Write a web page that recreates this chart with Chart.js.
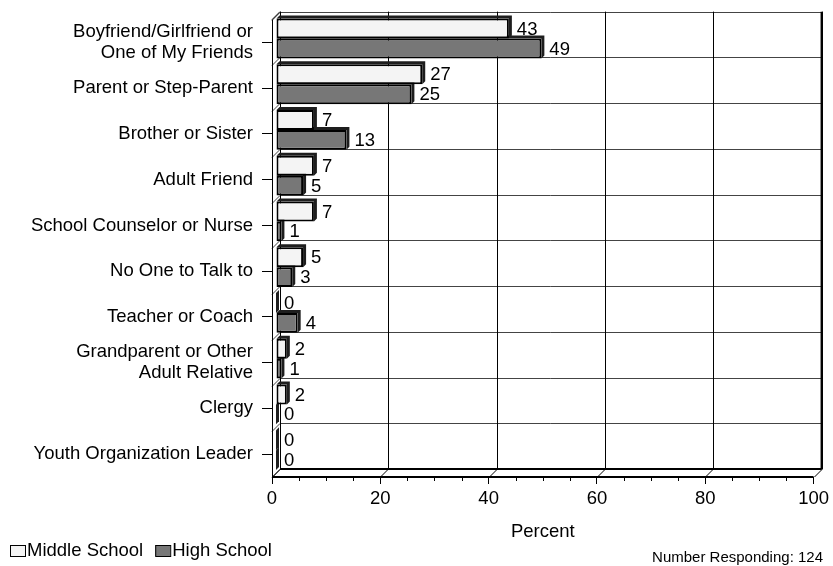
<!DOCTYPE html>
<html>
<head>
<meta charset="utf-8">
<script src="https://cdn.jsdelivr.net/npm/chart.js@4"></script>
<style>
  html, body { margin: 0; padding: 0; background: #fff; }
  canvas { display: block; }
</style>
</head>
<body>
<canvas id="chart" width="833" height="566"></canvas>
<script>
const categories = [
  ["Boyfriend/Girlfriend or", "One of My Friends"],
  "Parent or Step-Parent",
  "Brother or Sister",
  "Adult Friend",
  "School Counselor or Nurse",
  "No One to Talk to",
  "Teacher or Coach",
  ["Grandparent or Other", "Adult Relative"],
  "Clergy",
  "Youth Organization Leader"
];
const middleSchool = [43, 27, 7, 7, 7, 5, 0, 2, 2, 0];
const highSchool = [49, 25, 13, 5, 1, 3, 4, 1, 0, 0];
const xTicks = [0, 20, 40, 60, 80, 100];
const respondents = 124;

const FONT = "'Liberation Sans', Arial, sans-serif";
const SIZE = 18.5;
const WALL = 8;   // depth of the back wall
const SHIFT = 4;  // bars sit half way into the box
const SIDE = 3;   // visible side/top face of each bar

function line(ctx, x1, y1, x2, y2) {
  ctx.beginPath();
  ctx.moveTo(x1, y1);
  ctx.lineTo(x2, y2);
  ctx.stroke();
}

const box3d = {
  id: 'box3d',
  beforeDatasetsDraw(chart) {
    const { ctx, chartArea: a, scales: { x } } = chart;
    const n = categories.length;
    const band = (a.bottom - a.top) / n;
    ctx.save();
    ctx.lineWidth = 1;
    // horizontal lines between categories on the back wall + left wall
    ctx.strokeStyle = '#444';
    for (let i = 0; i <= n; i++) {
      const py = Math.round(a.top + i * band) + 0.5;
      line(ctx, a.left + WALL, py - WALL, a.right + WALL, py - WALL);
      line(ctx, a.left, py, a.left + WALL, py - WALL);
    }
    // vertical grid lines on the back wall + floor
    ctx.strokeStyle = '#000';
    xTicks.forEach(v => {
      const px = Math.round(x.getPixelForValue(v)) + 0.5;
      line(ctx, px + WALL, a.top - WALL, px + WALL, a.bottom - WALL);
      line(ctx, px, a.bottom, px + WALL, a.bottom - WALL);
    });
    // box edges
    ctx.lineWidth = 1;
    line(ctx, a.left + 0.5, a.top, a.left + 0.5, a.bottom);
    line(ctx, a.left, a.top, a.left + WALL, a.top - WALL);
    ctx.lineWidth = 2;
    line(ctx, a.left, a.bottom, a.right, a.bottom);
    line(ctx, a.right + WALL, a.top - WALL, a.right + WALL, a.bottom - WALL);
    line(ctx, a.left + WALL, a.bottom - WALL, a.right + WALL, a.bottom - WALL);
    ctx.restore();

    // minor ticks on the value axis
    ctx.save();
    ctx.strokeStyle = '#000';
    ctx.lineWidth = 1;
    for (let v = 0; v <= 100; v += 5) {
      if (v % 20 === 0) continue;
      const px = Math.round(x.getPixelForValue(v)) + 0.5;
      line(ctx, px, a.bottom, px, a.bottom + 4);
    }
    ctx.restore();

    // bar side/top faces, then the bars themselves, drawn shifted into the box
    ctx.save();
    ctx.translate(SHIFT, -SHIFT);
    ctx.fillStyle = '#1e1e1e';
    chart.data.datasets.forEach((ds, di) => {
      chart.getDatasetMeta(di).data.forEach(bar => {
        const l = Math.min(bar.base, bar.x), r = Math.max(bar.base, bar.x);
        const t = bar.y - bar.height / 2, b = bar.y + bar.height / 2;
        ctx.beginPath();
        ctx.moveTo(l, t);
        ctx.lineTo(l + SIDE, t - SIDE);
        ctx.lineTo(r + SIDE, t - SIDE);
        ctx.lineTo(r + SIDE, b - SIDE);
        ctx.lineTo(r, b);
        ctx.lineTo(r, t);
        ctx.closePath();
        ctx.fill();
      });
    });
  },
  afterDatasetsDraw(chart) {
    const { ctx } = chart;
    // value labels
    ctx.fillStyle = '#000';
    ctx.font = SIZE + 'px ' + FONT;
    ctx.textAlign = 'left';
    ctx.textBaseline = 'middle';
    chart.data.datasets.forEach((ds, di) => {
      chart.getDatasetMeta(di).data.forEach((bar, i) => {
        const r = Math.max(bar.base, bar.x);
        ctx.fillText(String(ds.data[i]), r + SIDE + 5, bar.y + 1);
      });
    });
    ctx.restore();
  },
  afterDraw(chart) {
    const { ctx } = chart;
    ctx.save();
    // legend
    ctx.font = SIZE + 'px ' + FONT;
    ctx.textAlign = 'left';
    ctx.textBaseline = 'middle';
    let lx = 10;
    chart.data.datasets.forEach(ds => {
      ctx.fillStyle = ds.backgroundColor;
      ctx.fillRect(lx, 545, 15, 11);
      ctx.strokeStyle = '#000';
      ctx.lineWidth = 1;
      ctx.strokeRect(lx + 0.5, 545.5, 15, 11);
      ctx.fillStyle = '#000';
      ctx.fillText(ds.label, lx + 17, 551);
      lx += 17 + ctx.measureText(ds.label).width + 12;
    });
    // respondent count
    ctx.font = '15px ' + FONT;
    ctx.textAlign = 'right';
    ctx.fillText('Number Responding: ' + respondents, 823, 558);
    ctx.restore();
  }
};

new Chart(document.getElementById('chart'), {
  type: 'bar',
  data: {
    labels: categories,
    datasets: [
      {
        label: 'Middle School',
        data: middleSchool,
        backgroundColor: '#f4f4f4',
        borderColor: '#000',
        borderWidth: 2,
        borderSkipped: false
      },
      {
        label: 'High School',
        data: highSchool,
        backgroundColor: '#777777',
        borderColor: '#000',
        borderWidth: 2,
        borderSkipped: false
      }
    ]
  },
  options: {
    indexAxis: 'y',
    responsive: false,
    animation: false,
    devicePixelRatio: 1,
    layout: { padding: { top: 17, right: 15, left: 0, bottom: 0 } },
    datasets: { bar: { categoryPercentage: 0.87, barPercentage: 1.0 } },
    plugins: {
      legend: { display: false },
      tooltip: { enabled: false }
    },
    scales: {
      x: {
        min: 0,
        max: 100,
        ticks: { stepSize: 20, color: '#000', font: { family: FONT, size: SIZE }, padding: 4 },
        grid: { drawOnChartArea: false, drawTicks: true, tickLength: 7, color: '#000' },
        border: { display: false },
        title: {
          display: true,
          text: 'Percent',
          color: '#000',
          font: { family: FONT, size: SIZE },
          padding: { top: 4, bottom: 23 }
        },
        afterFit(scale) { scale.height = 89; }
      },
      y: {
        ticks: { color: '#000', font: { family: FONT, size: SIZE, lineHeight: 1.15 }, padding: 9, autoSkip: false },
        grid: { drawOnChartArea: false, drawTicks: true, tickLength: 10, offset: false, color: '#000' },
        border: { display: false },
        afterFit(scale) { scale.width = 272; }
      }
    }
  },
  plugins: [box3d]
});
</script>
</body>
</html>
